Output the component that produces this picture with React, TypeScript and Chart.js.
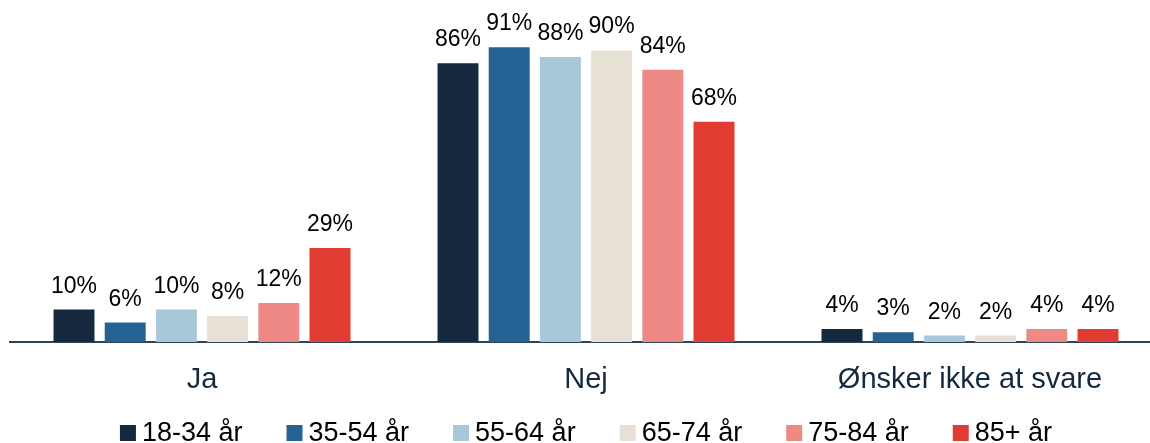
import { useEffect, useRef } from "react";
import { Chart, registerables } from "chart.js";

Chart.register(...registerables);

const FONT = "'Liberation Sans', Arial, sans-serif";

const categories = ["Ja", "Nej", "Ønsker ikke at svare"];
const ageGroups = ["18-34 år", "35-54 år", "55-64 år", "65-74 år", "75-84 år", "85+ år"];

const age18to34 = [10, 86, 4];
const age35to54 = [6, 91, 3];
const age55to64 = [10, 88, 2];
const age65to74 = [8, 90, 2];
const age75to84 = [12, 84, 4];
const age85plus = [29, 68, 4];

const seriesValues = [age18to34, age35to54, age55to64, age65to74, age75to84, age85plus];
const palette = ["#14293d", "#256294", "#a8c7d8", "#e7e0d5", "#ee8a85", "#e03c32"];

const valueLabels = {
  id: "valueLabels",
  afterDatasetsDraw(chart: Chart) {
    const { ctx } = chart;
    ctx.save();
    ctx.font = `23px ${FONT}`;
    ctx.fillStyle = "#000";
    ctx.textAlign = "center";
    ctx.textBaseline = "alphabetic";
    chart.data.datasets.forEach((ds, i) => {
      const meta = chart.getDatasetMeta(i);
      meta.data.forEach((bar: any, j) => {
        ctx.fillText(`${ds.data[j]}%`, bar.x, bar.y - 17);
      });
    });
    ctx.restore();
  },
};

const bottomLegend = {
  id: "bottomLegend",
  afterDraw(chart: Chart) {
    const { ctx, chartArea } = chart;
    const box = 16;
    const gap = 6;
    const spacing = 44;
    ctx.save();
    ctx.font = `27px ${FONT}`;
    const items = chart.data.datasets.map((ds) => ({
      text: ds.label as string,
      color: ds.backgroundColor as string,
      w: box + gap + ctx.measureText(ds.label as string).width,
    }));
    const total = items.reduce((s, it) => s + it.w, 0) + spacing * (items.length - 1);
    let x = (chartArea.left + chartArea.right) / 2 - total / 2;
    ctx.textBaseline = "alphabetic";
    items.forEach((it) => {
      ctx.fillStyle = it.color;
      ctx.fillRect(x, 425, box, box);
      ctx.fillStyle = "#000";
      ctx.fillText(it.text, x + box + gap, 441);
      x += it.w + spacing;
    });
    ctx.restore();
  },
};

function GroupedBarChart() {
  const chartRef = useRef<HTMLCanvasElement>(null);
  const chartInstance = useRef<Chart | null>(null);

  useEffect(() => {
    if (!chartRef.current) return;
    if (chartInstance.current) chartInstance.current.destroy();

    chartInstance.current = new Chart(chartRef.current, {
      type: "bar",
      data: {
        labels: categories,
        datasets: ageGroups.map((label, i) => ({
          label,
          data: seriesValues[i],
          backgroundColor: palette[i],
          borderWidth: 0,
          barPercentage: 0.8,
          categoryPercentage: 0.8,
        })),
      },
      options: {
        responsive: false,
        animation: false,
        layout: { padding: { top: 18, left: 10, right: 0, bottom: 0 } },
        scales: {
          y: { display: false, min: 0, max: 100 },
          x: {
            grid: { display: false },
            border: { color: "#2e4457", width: 2 },
            ticks: {
              color: "#14293d",
              padding: 13,
              font: { family: FONT, size: 29 },
            },
            afterFit: (scale: any) => {
              scale.height = 101;
            },
          },
        },
        plugins: {
          legend: { display: false },
          tooltip: { enabled: false },
        },
      },
      plugins: [valueLabels, bottomLegend],
    });

    return () => {
      if (chartInstance.current) {
        chartInstance.current.destroy();
        chartInstance.current = null;
      }
    };
  }, []);

  return (
    <canvas
      ref={chartRef}
      width={1162}
      height={443}
      style={{ width: 1162, height: 443, display: "block" }}
    ></canvas>
  );
}

export default function App() {
  useEffect(() => {
    document.body.style.margin = "0";
    document.body.style.overflow = "hidden";
  }, []);

  return (
    <div style={{ position: "fixed", left: 0, top: 0, width: 1162, height: 443, background: "#fff" }}>
      <GroupedBarChart />
    </div>
  );
}
